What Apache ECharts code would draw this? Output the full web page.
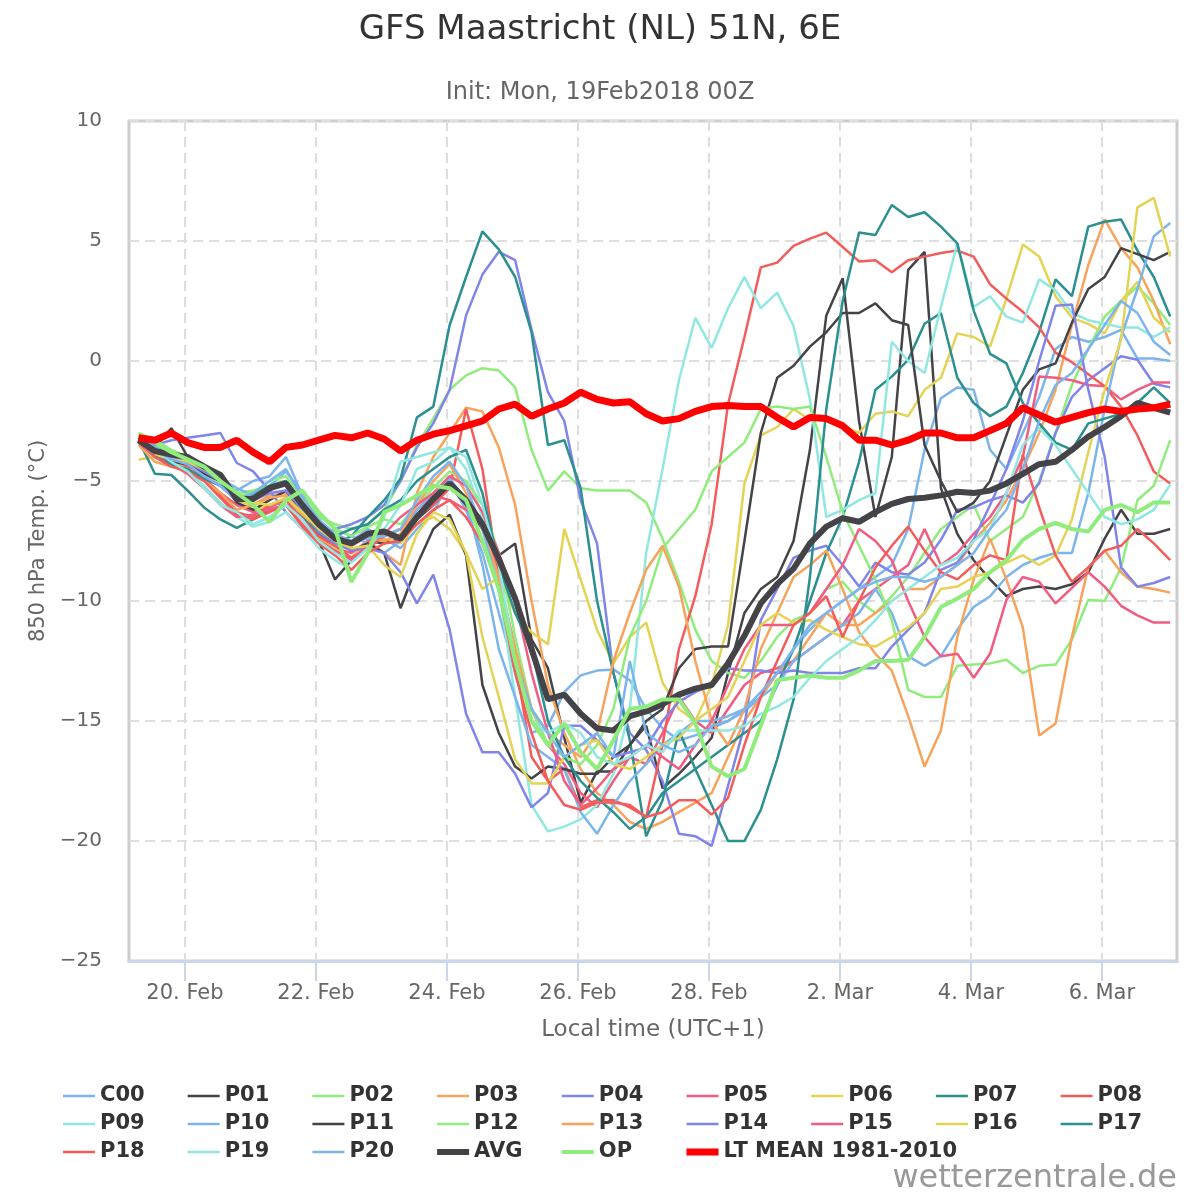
<!DOCTYPE html>
<html>
<head>
<meta charset="utf-8">
<script src="https://cdn.jsdelivr.net/npm/echarts@6/dist/echarts.min.js"></script>
<style>
html,body{margin:0;padding:0;background:#fff;}
#chart{width:1200px;height:1200px;}
</style>
</head>
<body>
<div id="chart"></div>
<script>
// ---- DATA ----
// time of each value, hours after 20 Feb 2018 00:00 local (UTC+1); first value 19 Feb 07:00, 6-hourly
const hoursLocal = Array.from({length: 64}, (_, i) => -17 + 6 * i);
const xTickHours = [0, 48, 96, 144, 192, 240, 288, 336];
const xTickLabels = ['20. Feb', '22. Feb', '24. Feb', '26. Feb', '28. Feb', '2. Mar', '4. Mar', '6. Mar'];

const c00 = [-3.2,-3.6,-3.9,-4.1,-4.6,-5.2,-5.4,-5.0, -4.8,-4.0,-5.6,-6.6,-7.3,-7.5,-7.0,-7.4, -7.8,-7.0,-6.3,-5.0,-6.2,-8.0,-10.5,-13.0, -15.5,-15.2,-13.8,-13.1,-12.9,-12.85,-13.3,-14.5, -15.3,-15.8,-15.6,-15.3,-15.0,-14.6,-14.0,-13.0, -12.0,-11.2,-10.5,-10.0,-9.5,-9.0,-8.5,-7.0, -3.7,-1.55,-1.1,-1.2,-3.7,-4.5,-3.0,-1.5, 0.5,1.0,0.8,1.0,1.3,0.1,0.1,0.0];
const p01 = [-3.3,-3.6,-2.8,-4.0,-4.5,-5.0,-5.6,-5.7, -5.4,-5.0,-6.0,-7.5,-9.1,-8.3,-7.5,-7.6, -7.4,-6.6,-6.0,-5.2,-6.0,-7.0,-8.1,-7.6, -11.6,-12.8,-15.7,-18.4,-17.1,-17.1,-16.0,-15.2, -17.8,-17.2,-16.5,-15.7,-13.0,-10.5,-9.5,-9.0, -7.5,-3.7,1.9,3.45,-2.5,-6.5,-4.0,3.8, 4.55,-5.3,-7.2,-8.3,-9.1,-9.8,-9.5,-9.4, -9.5,-9.3,-8.8,-7.4,-6.2,-7.2,-7.2,-7.0];
const p02 = [-3.1,-3.5,-3.8,-4.0,-4.3,-4.8,-5.5,-5.4, -5.2,-5.0,-5.8,-6.5,-6.8,-7.0,-6.8,-6.2, -5.0,-3.5,-2.4,-1.2,-0.6,-0.3,-0.4,-1.1, -3.7,-5.4,-4.6,-5.3,-5.4,-5.4,-5.4,-5.9, -7.4,-9.2,-11.2,-12.5,-13.0,-13.2,-12.5,-11.5, -10.8,-10.5,-9.5,-9.2,-10.0,-10.5,-9.8,-9.0, -8.0,-7.0,-6.5,-6.0,-7.5,-7.0,-6.5,-5.0, -3.0,-1.0,0.5,1.85,2.5,3.1,2.4,1.5];
const p03 = [-3.4,-3.9,-4.2,-4.4,-4.8,-5.2,-5.8,-6.0, -5.6,-5.5,-6.5,-7.4,-7.8,-8.2,-7.5,-8.0, -8.5,-5.5,-4.0,-3.0,-1.95,-2.1,-3.6,-6.0, -10.0,-13.5,-15.5,-17.0,-18.0,-18.5,-19.2,-19.5, -19.2,-18.8,-18.4,-18.0,-16.5,-15.0,-14.0,-13.0, -12.5,-11.5,-10.5,-11.0,-11.0,-10.5,-10.0,-9.5, -9.5,-9.0,-8.5,-7.5,-6.75,-5.8,-4.5,-3.0, -1.2,1.5,4.0,5.9,4.7,3.9,2.5,0.7];
const p04 = [-3.3,-3.5,-3.3,-3.2,-3.1,-3.0,-4.25,-4.6, -5.4,-6.3,-7.0,-7.3,-7.0,-6.8,-6.5,-6.0, -5.0,-3.6,-2.6,-1.2,1.9,3.6,4.55,4.2, 1.3,-1.3,-2.5,-5.8,-7.6,-13.0,-15.5,-16.2, -17.5,-19.7,-19.8,-20.2,-17.7,-15.2,-10.8,-9.5, -8.2,-7.9,-7.7,-8.5,-9.4,-8.4,-8.8,-8.9, -8.4,-7.45,-6.2,-6.1,-5.8,-5.6,-5.9,-5.1, -3.0,-1.5,-0.8,-0.3,0.2,0.05,-0.95,-1.1];
const p05 = [-3.2,-3.8,-4.0,-4.4,-4.9,-5.5,-6.0,-6.3, -6.1,-5.8,-6.5,-7.2,-7.8,-8.0,-7.5,-7.3, -7.0,-6.2,-5.6,-5.8,-6.2,-6.5,-9.0,-12.0, -14.5,-16.0,-16.8,-18.0,-18.6,-17.5,-16.5,-16.8, -15.5,-14.0,-15.0,-15.5,-14.5,-13.5,-13.0,-12.8, -12.5,-12.0,-11.5,-11.0,-10.0,-9.5,-9.0,-8.5, -7.0,-8.5,-8.0,-7.2,-6.5,-5.5,-4.0,-0.65, -0.7,-0.8,-1.0,-1.05,-1.6,-1.2,-0.9,-0.9];
const p06 = [-4.1,-4.0,-4.3,-4.5,-4.8,-5.0,-5.6,-6.2, -6.0,-5.8,-6.5,-7.2,-7.8,-8.3,-7.6,-7.4, -7.6,-6.8,-6.5,-7.0,-8.0,-9.5,-9.0,-10.5, -11.3,-11.8,-7.0,-9.1,-11.2,-12.6,-11.5,-10.9, -13.4,-14.5,-15.0,-13.5,-11.0,-5.1,-3.1,-2.75, -2.0,-2.45,-2.45,-2.7,-3.0,-2.2,-2.1,-2.3, -1.2,-0.7,1.15,1.0,0.6,2.6,4.85,4.35, 2.7,1.8,1.55,1.15,2.5,3.3,1.8,1.2];
const p07 = [-3.3,-4.7,-4.75,-5.4,-6.1,-6.6,-6.95,-6.6, -6.2,-6.0,-6.5,-7.2,-7.6,-7.3,-6.5,-5.8, -4.9,-2.35,-1.9,1.5,3.5,5.4,4.65,3.5, 1.2,-3.5,-3.3,-5.3,-10.0,-13.0,-15.8,-19.8, -18.3,-15.4,-17.0,-16.5,-16.0,-15.5,-15.0,-13.5, -12.0,-10.0,-8.0,-6.5,-4.2,-1.2,-0.65,0.05, 1.55,2.0,-0.7,-1.75,-2.3,-1.9,-0.5,1.2, 3.4,2.7,5.6,5.8,5.9,4.6,3.5,1.85];
const p08 = [-3.3,-3.8,-4.1,-4.3,-4.9,-5.6,-6.3,-6.5, -6.0,-5.8,-6.6,-7.3,-7.7,-8.2,-7.8,-7.3, -7.0,-6.5,-6.0,-5.3,-2.0,-4.5,-9.0,-12.5, -16.5,-17.5,-17.0,-18.6,-18.3,-18.3,-18.6,-19.0, -16.0,-12.0,-9.8,-6.8,-1.8,1.0,3.9,4.1, 4.8,5.1,5.35,4.75,4.15,4.2,3.7,4.2, 4.35,4.5,4.6,4.35,3.2,2.6,2.05,1.4, 0.35,-0.05,-0.55,-1.05,-1.9,-3.1,-4.6,-5.1];
const p09 = [-3.2,-3.9,-4.3,-4.6,-5.2,-5.9,-6.5,-6.9, -6.7,-6.3,-7.0,-7.8,-8.3,-8.7,-8.0,-6.5, -4.2,-4.0,-3.8,-3.6,-4.5,-6.5,-9.5,-14.0, -18.5,-19.6,-19.4,-19.1,-18.5,-17.2,-14.5,-8.0, -4.5,-0.8,1.8,0.55,2.2,3.5,2.2,2.85, 1.45,-1.6,-6.5,-6.2,-5.8,-5.5,0.8,0.0, -0.5,2.25,4.9,2.25,2.7,1.85,1.6,3.4, 2.95,2.0,1.7,1.55,1.4,1.4,1.0,1.4];
const p10 = [-3.2,-3.6,-3.8,-4.0,-4.4,-4.9,-5.3,-5.6, -5.2,-4.6,-5.5,-6.4,-7.0,-7.3,-7.6,-8.0, -7.5,-6.2,-5.5,-4.9,-5.8,-8.5,-12.0,-14.0, -16.0,-16.5,-17.0,-18.8,-19.7,-18.5,-17.5,-16.8, -16.0,-15.5,-15.0,-15.0,-14.8,-14.5,-14.0,-13.5, -12.5,-12.0,-11.5,-11.0,-10.5,-9.5,-10.5,-12.3, -12.7,-12.3,-11.2,-10.25,-9.8,-9.0,-8.5,-8.2, -8.0,-8.0,-5.5,-2.0,1.0,3.0,5.2,5.75];
const p11 = [-3.4,-3.9,-4.2,-4.3,-4.7,-5.0,-5.9,-6.2, -5.8,-5.4,-6.3,-7.0,-7.5,-7.9,-7.6,-8.0, -10.3,-8.5,-7.0,-6.4,-8.1,-13.5,-15.5,-16.9, -17.4,-16.9,-17.0,-17.2,-17.2,-16.5,-16.0,-15.0, -14.5,-12.8,-12.0,-11.9,-11.9,-7.5,-3.0,-0.7, -0.2,0.6,1.2,2.0,2.0,2.4,1.7,1.5, -3.5,-5.0,-6.3,-5.9,-5.0,-3.1,-1.2,-0.35, -0.1,1.6,3.0,3.5,4.7,4.45,4.2,4.55];
const p12 = [-3.0,-3.3,-3.7,-4.0,-4.5,-5.0,-5.6,-5.5, -5.0,-4.8,-5.7,-6.4,-7.0,-7.3,-6.9,-6.6, -6.8,-6.0,-5.3,-4.6,-5.0,-6.0,-8.0,-11.5, -14.5,-16.0,-16.5,-16.8,-16.0,-14.5,-11.5,-10.0, -7.8,-7.0,-6.2,-4.6,-4.0,-3.4,-2.0,-1.9, -2.0,-1.9,-4.0,-6.3,-7.7,-9.1,-10.8,-13.7, -14.0,-14.0,-12.7,-12.65,-12.6,-12.45,-13.0,-12.7, -12.65,-11.6,-9.95,-10.0,-8.6,-5.8,-5.2,-3.3];
const p13 = [-3.5,-4.2,-4.4,-4.6,-5.0,-5.5,-6.2,-6.0, -5.7,-5.6,-6.4,-7.0,-7.5,-7.7,-7.3,-7.5, -7.2,-6.0,-5.0,-4.3,-5.5,-7.0,-9.0,-12.0, -14.5,-15.5,-16.0,-16.5,-15.5,-12.5,-10.5,-8.7, -7.7,-9.4,-12.5,-15.0,-16.0,-14.5,-12.0,-10.5, -9.0,-8.5,-7.9,-9.5,-11.3,-12.2,-12.9,-14.8, -16.9,-15.4,-11.5,-9.1,-7.4,-9.1,-11.1,-15.6, -15.1,-11.5,-8.6,-7.9,-8.8,-9.4,-9.5,-9.65];
const p14 = [-3.2,-3.8,-4.0,-4.2,-4.6,-5.0,-5.6,-5.8, -5.5,-5.4,-6.2,-7.1,-7.6,-7.9,-7.8,-8.0, -8.8,-10.1,-8.9,-11.2,-14.7,-16.3,-16.3,-17.2, -18.6,-18.0,-15.2,-15.2,-15.8,-16.5,-16.3,-16.1, -15.0,-14.2,-13.8,-13.5,-12.8,-12.9,-12.9,-13.0, -12.9,-13.0,-13.0,-13.0,-12.8,-12.8,-11.9,-11.2, -10.5,-8.7,-8.4,-7.45,-6.0,-4.5,-2.5,0.0, 2.3,2.35,-1.2,-4.0,-8.6,-9.4,-9.25,-9.0];
const p15 = [-3.3,-3.9,-4.3,-4.7,-5.3,-6.0,-6.5,-6.4, -6.2,-6.0,-6.8,-7.5,-7.9,-8.3,-7.7,-7.2, -6.5,-6.0,-5.5,-4.8,-5.2,-6.3,-8.0,-10.0, -13.0,-15.5,-17.5,-18.5,-17.8,-17.0,-16.5,-16.0, -16.5,-17.0,-16.0,-15.0,-13.5,-12.0,-11.0,-11.0, -11.0,-10.5,-9.5,-8.5,-7.0,-7.5,-8.3,-10.0, -11.5,-12.3,-12.2,-13.2,-12.2,-9.95,-9.0,-9.2, -10.1,-9.45,-8.8,-9.4,-10.2,-10.6,-10.9,-10.9];
const p16 = [-3.3,-3.9,-4.1,-4.2,-4.5,-4.9,-5.5,-5.9, -6.0,-5.7,-6.3,-7.0,-7.5,-7.8,-7.7,-8.5, -9.0,-7.2,-6.3,-6.6,-8.0,-11.5,-14.0,-16.6, -17.6,-17.6,-16.5,-16.0,-15.8,-16.8,-17.0,-16.5, -16.0,-15.7,-15.0,-14.5,-14.0,-12.5,-11.0,-10.5, -10.9,-10.8,-11.2,-11.5,-11.8,-11.9,-11.5,-11.1, -10.5,-9.5,-9.4,-9.0,-8.8,-8.4,-8.1,-8.5, -8.1,-6.6,-3.8,-1.2,0.9,6.4,6.8,4.35];
const p17 = [-3.2,-4.0,-4.3,-4.5,-4.9,-5.2,-5.8,-5.6, -5.2,-5.0,-6.0,-6.8,-7.3,-7.0,-6.8,-6.2, -5.8,-5.0,-4.5,-4.0,-3.7,-5.5,-8.5,-10.5, -12.0,-15.0,-16.5,-17.5,-18.2,-18.8,-19.5,-19.0, -18.0,-17.5,-17.0,-18.5,-20.0,-20.0,-18.7,-16.6, -14.1,-9.0,-2.0,2.5,5.35,5.25,6.5,6.0, 6.2,5.6,4.9,2.1,0.3,-0.1,-1.75,-2.6, -3.4,-3.7,-2.6,-2.4,-2.2,-1.75,-1.1,-1.75];
const p18 = [-3.4,-4.0,-4.4,-4.6,-5.0,-5.7,-6.4,-6.6, -6.3,-6.0,-6.9,-7.6,-8.1,-8.7,-8.0,-7.6, -7.5,-6.8,-6.2,-5.8,-6.5,-7.6,-9.5,-13.0, -15.5,-17.5,-18.5,-18.7,-18.4,-18.4,-18.5,-19.0, -18.8,-18.3,-18.3,-18.9,-18.2,-16.0,-14.0,-12.5, -11.0,-10.5,-9.8,-11.5,-10.0,-8.6,-7.7,-6.9, -7.9,-8.8,-9.1,-8.5,-8.1,-8.3,-3.9,-6.1, -8.1,-9.2,-8.6,-7.9,-7.7,-7.0,-7.6,-8.3];
const p19 = [-3.1,-3.7,-4.2,-4.6,-5.3,-6.0,-6.3,-6.8, -6.5,-6.0,-6.6,-7.5,-8.0,-8.4,-7.8,-7.0, -6.0,-4.5,-4.2,-3.6,-4.0,-6.0,-8.5,-12.5, -15.0,-15.5,-15.1,-15.5,-16.5,-16.8,-16.5,-16.0, -16.3,-15.4,-15.4,-15.4,-15.4,-15.2,-14.7,-14.4, -14.0,-13.2,-12.5,-12.0,-11.5,-10.8,-10.0,-9.5, -9.0,-8.5,-8.2,-7.5,-7.0,-5.5,-3.5,-2.8, -3.5,-4.5,-5.5,-6.5,-6.8,-6.6,-6.2,-5.15];
const p20 = [-3.1,-3.7,-4.1,-4.3,-4.8,-5.2,-5.8,-5.5, -5.0,-4.5,-5.7,-6.6,-7.2,-7.5,-7.4,-7.3, -7.0,-5.8,-4.8,-4.2,-5.2,-7.0,-9.5,-12.5, -14.5,-15.5,-16.5,-16.0,-15.5,-16.5,-12.5,-15.5, -16.0,-16.3,-16.0,-15.2,-15.0,-14.5,-13.8,-13.0, -12.0,-11.0,-10.5,-10.0,-9.5,-9.2,-9.0,-9.0, -9.2,-9.0,-8.5,-8.0,-7.0,-6.2,-4.5,-2.5, -1.0,-0.5,0.5,1.5,2.5,2.0,0.8,0.25];
const avg = [-3.3,-3.75,-3.9,-4.0,-4.4,-4.75,-5.75,-5.75, -5.3,-5.1,-6.0,-6.8,-7.4,-7.6,-7.2,-7.1, -7.4,-6.5,-5.75,-5.1,-5.8,-6.8,-8.25,-9.9, -12.0,-14.1,-13.9,-14.7,-15.3,-15.4,-14.8,-14.6, -14.3,-13.9,-13.65,-13.5,-12.6,-11.45,-10.1,-9.3, -8.65,-7.6,-6.9,-6.55,-6.7,-6.3,-5.95,-5.75, -5.7,-5.6,-5.45,-5.5,-5.4,-5.1,-4.7,-4.3, -4.2,-3.7,-3.15,-2.75,-2.3,-1.75,-1.95,-2.15];
const op = [-3.1,-3.4,-3.8,-4.1,-4.4,-5.0,-5.5,-6.0, -6.7,-5.8,-5.4,-6.3,-7.0,-9.2,-8.0,-6.3, -6.0,-5.6,-5.2,-5.3,-5.8,-7.5,-9.5,-12.5, -15.0,-16.0,-15.1,-16.3,-17.0,-15.8,-14.5,-14.4, -14.1,-14.1,-15.1,-16.9,-17.3,-17.0,-15.2,-13.3, -13.2,-13.1,-13.2,-13.2,-12.9,-12.5,-12.5,-12.45, -11.5,-10.25,-9.9,-9.5,-8.8,-8.3,-7.45,-7.0, -6.75,-7.0,-7.1,-6.2,-6.0,-6.3,-5.9,-5.9];
const ltMean = [-3.2,-3.3,-3.0,-3.4,-3.6,-3.6,-3.3,-3.8, -4.2,-3.6,-3.5,-3.3,-3.1,-3.2,-3.0,-3.25, -3.75,-3.3,-3.05,-2.9,-2.7,-2.5,-2.0,-1.8, -2.3,-2.0,-1.75,-1.3,-1.6,-1.75,-1.7,-2.2, -2.5,-2.4,-2.1,-1.9,-1.85,-1.9,-1.9,-2.35, -2.75,-2.35,-2.4,-2.7,-3.3,-3.3,-3.5,-3.3, -3.0,-3.0,-3.2,-3.2,-2.9,-2.6,-1.95,-2.25, -2.55,-2.35,-2.15,-2.0,-2.1,-2.0,-1.95,-1.8];

const memberNames = ['C00','P01','P02','P03','P04','P05','P06','P07','P08','P09','P10','P11','P12','P13','P14','P15','P16','P17','P18','P19','P20'];
const memberValues = [c00,p01,p02,p03,p04,p05,p06,p07,p08,p09,p10,p11,p12,p13,p14,p15,p16,p17,p18,p19,p20];
const palette = ['#7cb5ec','#434348','#90ed7d','#f7a35c','#8085e9','#f15c80','#e4d354','#2b908f','#f45b5b','#91e8e1'];

// ---- CHART ----
const FONT = 'DejaVu Sans';
const toPairs = vals => vals.map((v, i) => [hoursLocal[i], v]);
const widths = {};

const series = memberValues.map((vals, k) => {
  widths[memberNames[k]] = 2.5;
  return {
    name: memberNames[k], type: 'line', data: toPairs(vals),
    symbol: 'none', showSymbol: false, silent: true,
    color: palette[k % 10],
    lineStyle: {width: 2.5, color: palette[k % 10]},
    emphasis: {disabled: true}
  };
});
series.push({name: 'AVG', type: 'line', data: toPairs(avg), symbol: 'none', showSymbol: false, silent: true,
  color: '#434348', lineStyle: {width: 6, color: '#434348'}, emphasis: {disabled: true}, z: 4});
series.push({name: 'OP', type: 'line', data: toPairs(op), symbol: 'none', showSymbol: false, silent: true,
  color: '#90ed7d', lineStyle: {width: 4, color: '#90ed7d'}, emphasis: {disabled: true}, z: 4});
series.push({name: 'LT MEAN 1981-2010', type: 'line', data: toPairs(ltMean), symbol: 'none', showSymbol: false, silent: true,
  color: '#ff0000', lineStyle: {width: 7, color: '#ff0000'}, emphasis: {disabled: true}, z: 5});
widths['AVG'] = 6; widths['OP'] = 4; widths['LT MEAN 1981-2010'] = 7;

const iconFor = name => 'path://M0,0H32V' + widths[name] + 'H0Z';

const legendColumns = [
  ['C00','P09','P18'], ['P01','P10','P19'], ['P02','P11','P20'],
  ['P03','P12','AVG'], ['P04','P13','OP'], ['P05','P14','LT MEAN 1981-2010'],
  ['P06','P15'], ['P07','P16'], ['P08','P17']
];
const legends = legendColumns.map((col, k) => ({
  orient: 'vertical', left: 58 + 124.7 * k, top: 1080,
  data: col.map(n => ({name: n, icon: iconFor(n)})),
  selectedMode: false, symbolKeepAspect: true,
  itemWidth: 32, itemHeight: 14, itemGap: 6,
  itemStyle: {borderWidth: 0},
  textStyle: {fontFamily: FONT, fontSize: 21, fontWeight: 'bold', color: '#333', lineHeight: 22}
}));

const fmtY = v => (v < 0 ? '\u2212' + Math.abs(v) : String(v));
const fmtX = v => { const k = xTickHours.indexOf(v); return k >= 0 ? xTickLabels[k] : ''; };

const option = {
  animation: false,
  backgroundColor: '#ffffff',
  textStyle: {fontFamily: FONT},
  title: [
    {text: 'GFS Maastricht (NL) 51N, 6E', left: 'center', top: 8,
     textStyle: {fontFamily: FONT, fontSize: 34, fontWeight: 'normal', color: '#333'}},
    {text: 'Init: Mon, 19Feb2018 00Z', left: 'center', top: 76,
     textStyle: {fontFamily: FONT, fontSize: 24, fontWeight: 'normal', color: '#666'}},
    {text: 'wetterzentrale.de', right: 18, bottom: 0,
     textStyle: {fontFamily: FONT, fontSize: 32, fontWeight: 'normal', color: '#999'}}
  ],
  legend: legends,
  grid: {left: 129, right: 23, top: 121, bottom: 239, show: true, borderColor: '#cccccc', borderWidth: 3, backgroundColor: '#fff'},
  xAxis: {
    type: 'value', min: -20.5, max: 363.5,
    name: 'Local time (UTC+1)', nameLocation: 'middle', nameGap: 58,
    nameTextStyle: {fontFamily: FONT, fontSize: 23, color: '#666'},
    axisLine: {show: true, onZero: false, lineStyle: {color: '#ccd6eb', width: 3}},
    axisTick: {show: true, length: 20, customValues: xTickHours, lineStyle: {color: '#ccd6eb', width: 2}},
    axisLabel: {customValues: xTickHours, formatter: fmtX, fontFamily: FONT, fontSize: 21, color: '#666', margin: 22},
    splitLine: {show: true, lineStyle: {type: [10, 6], color: '#dedede', width: 2}}
  },
  yAxis: {
    type: 'value', min: -25, max: 10, interval: 5,
    name: '850 hPa Temp. (\u00b0C)', nameLocation: 'middle', nameGap: 74, nameRotate: 90,
    nameTextStyle: {fontFamily: FONT, fontSize: 21, color: '#666'},
    axisLine: {show: false}, axisTick: {show: false},
    axisLabel: {formatter: fmtY, fontFamily: FONT, fontSize: 20, color: '#666', margin: 27},
    splitLine: {show: true, lineStyle: {type: [10, 6], color: '#dedede', width: 2}}
  },
  series: series
};

const chart = echarts.init(document.getElementById('chart'), null, {renderer: 'canvas'});
chart.setOption(option);
</script>
</body>
</html>
